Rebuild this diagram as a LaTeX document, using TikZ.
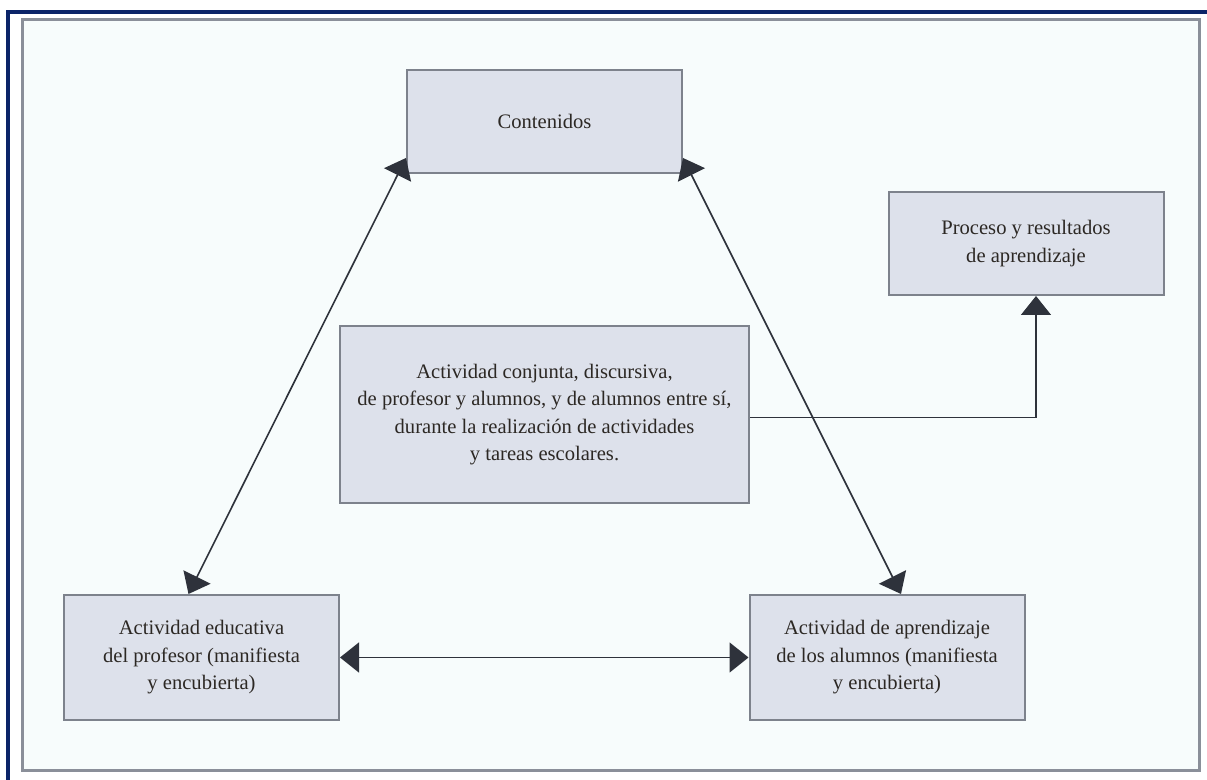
\documentclass[tikz,border=0pt]{standalone}
\usepackage{fontspec}
\setmainfont{Liberation Serif}
\usepackage{tikz}
\usetikzlibrary{arrows.meta}
\definecolor{marco}{HTML}{0B2468}
\definecolor{fondo}{HTML}{F7FCFC}
\definecolor{bordemarco}{HTML}{8A8F99}
\definecolor{fondocaja}{HTML}{DDE1EB}
\definecolor{bordecaja}{HTML}{7D828C}
\definecolor{linea}{HTML}{2E323B}
\definecolor{texto}{HTML}{2C2824}
\newcommand{\punta}{Triangle[length=9.5pt,width=15pt]}

\begin{document}
\begin{tikzpicture}[x=0.5pt,y=0.5pt,
    caja/.style={draw=bordecaja, line width=1pt, fill=fondocaja, align=center,
      text=texto, inner sep=0pt, font=\fontsize{10.3}{13.75}\selectfont,
      minimum width=137.5pt, minimum height=51.5pt},
    flecha/.style={draw=linea, line width=0.8pt, {\punta}-{\punta}},
    conector/.style={draw=linea, line width=0.7pt, -{\punta}}]
    \useasboundingbox (0,0) rectangle (1207,780);
    % marco
    \fill[fondo] (22,9) rectangle (1199,760);
    \draw[bordemarco, line width=1.5pt] (22,9) rectangle (1199,760);
    \draw[marco, line width=2pt] (8,0) -- (8,768) -- (1207,768);
    % cajas
    \node[caja] (cont) at (544.5,658.5) {Contenidos};
    \node[caja] (proc) at (1026,536.5) {Proceso y resultados\\de aprendizaje};
    \node[caja, minimum width=204.5pt, minimum height=88.5pt] (conj) at (544.5,365.5)
      {Actividad conjunta, discursiva,\\de profesor y alumnos, y de alumnos entre sí,\\durante la realización de actividades\\y tareas escolares.};
    \node[caja, minimum height=62.5pt] (edu) at (201.5,122.5)
      {Actividad educativa\\del profesor (manifiesta\\y encubierta)};
    \node[caja, minimum height=62.5pt] (apr) at (887,122.5)
      {Actividad de aprendizaje\\de los alumnos (manifiesta\\y encubierta)};
    % flechas
    \draw[flecha] ([yshift=8pt]cont.south west) -- ([xshift=-6.5pt]edu.north);
    \draw[flecha] ([yshift=8pt]cont.south east) -- ([xshift=7pt]apr.north);
    \draw[flecha] (edu.east) -- (apr.west);
    \draw[conector] ([yshift=-1.5pt]conj.east) -| ([xshift=5pt]proc.south);
\end{tikzpicture}
\end{document}
